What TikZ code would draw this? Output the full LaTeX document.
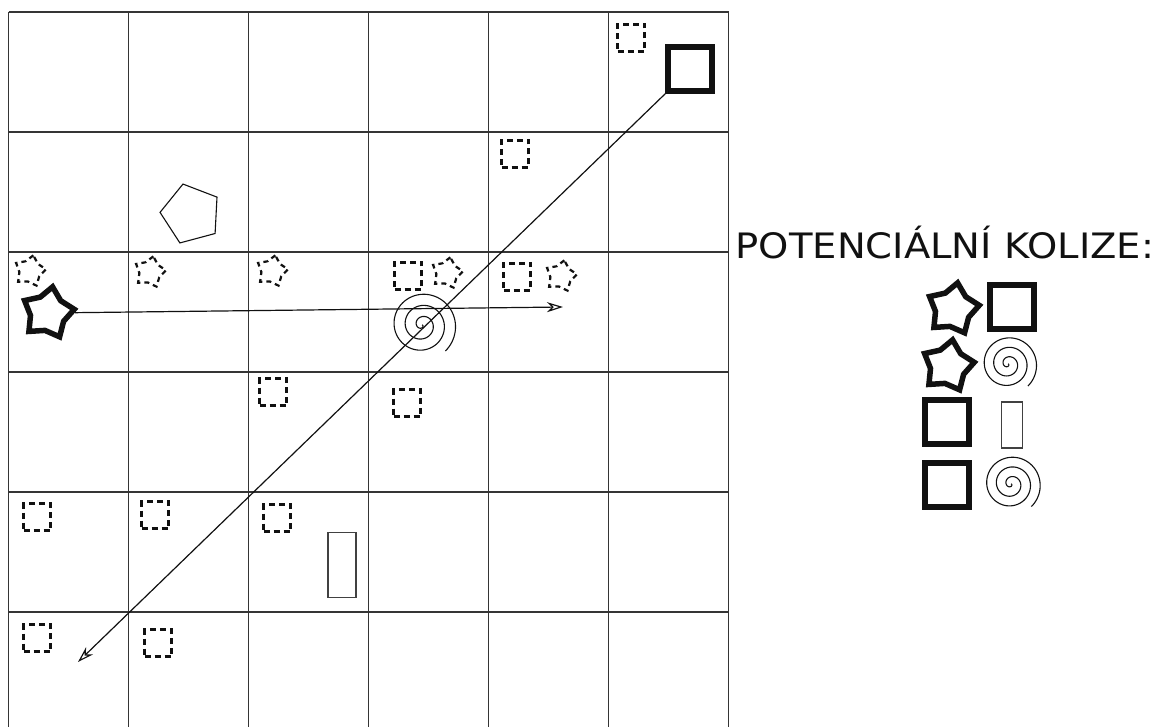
\documentclass[tikz,border=0pt]{standalone}
\usepackage{fontspec}
\setmainfont{DejaVu Sans}
\usetikzlibrary{positioning,shapes.geometric,arrows.meta}
\definecolor{ink}{HTML}{111111}
\tikzset{
  >=stealth,
  % --- grid
  cell/.style      = {line width=1.3pt, draw=ink!85},
  % --- shapes
  bigsq/.style     = {rectangle, draw=ink, line width=5.5pt, minimum size=44pt, inner sep=0pt},
  ghostsq/.style   = {rectangle, draw=ink, line width=2.2pt, minimum size=27pt, inner sep=0pt,
                      dash pattern=on 6pt off 4pt},
  bigstar/.style   = {star, star points=5, star point ratio=1.5, draw=ink, line width=5.5pt,
                      minimum size=53pt, inner sep=0pt, rotate=-10},
  ghoststar/.style = {star, star points=5, star point ratio=1.5, draw=ink, line width=2.2pt,
                      minimum size=32pt, inner sep=0pt, rotate=-12, dash pattern=on 5pt off 4pt},
  penta/.style     = {regular polygon, regular polygon sides=5, draw=ink, line width=1.1pt,
                      minimum size=62pt, inner sep=0pt, rotate=15},
  slab/.style      = {rectangle, draw=ink!80, line width=1.1pt, inner sep=0pt},
  spiralline/.style= {draw=ink, line width=1.1pt},
  title/.style     = {font=\fontsize{35}{42}\selectfont\addfontfeature{FakeStretch=1.1},
                      text=ink, inner sep=0pt},
  % --- edges
  e/.style         = {-{Stealth[open,length=16pt,width=10pt,inset=5pt]}, line width=1.2pt, draw=ink},
  % --- spiral
  spiral/.pic      = {\draw[spiralline] plot[domain=0:1128, samples=240, smooth] (\x:{0.031*\x});},
}

\begin{document}
\begin{tikzpicture}[x=1pt, y=-1pt]
  \useasboundingbox (0,0) rectangle (1162,727);
  % grid
  \foreach \k in {0,...,6} {
    \draw[cell] ({8.5+120*\k},12) -- ({8.5+120*\k},732);
    \draw[cell] (8.5,{12+120*\k}) -- (728.5,{12+120*\k});
  }
  % past positions
  \foreach \x/\y [count=\i] in {631/38, 515/154, 408/276, 517/277, 273/392, 407/403,
                                37/517, 155/515, 277/518, 37/638, 158/643}
    \node[ghostsq] (gsq\i) at (\x,\y) {};
  \foreach \x/\y [count=\i] in {30/271, 150/272, 272/271, 447/273, 561/276}
    \node[ghoststar] (gstar\i) at (\x,\y) {};
  % objects
  \node[bigstar] (star) at (48,313) {};
  \node[bigsq] (box) at (690,69) {};
  \node[penta] (penta) at (191,214) {};
  \node[slab, minimum width=28pt, minimum height=65pt] (slab) at (342,565) {};
  \pic at (422,325) {spiral};
  \coordinate (hend) at (563,307);
  \coordinate (dend) at (78,662);
  \draw[e] (star) -- (hend);
  \draw[e] (box.south west) -- (dend);
  % legend
  \node[title] (head) at (945,243) {POTENCIÁLNÍ KOLIZE:};
  \node[bigstar] (l1a) at (953,309) {};
  \node[bigsq] (l1b) at (1012,307) {};
  \node[bigstar] (l2a) at (948,366) {};
  \pic[scale=0.85] at (1008,364) {spiral};
  \node[bigsq] (l3a) at (947,422) {};
  \node[slab, minimum width=21pt, minimum height=46pt] (l3b) at (1012,425) {};
  \node[bigsq] (l4a) at (947,485) {};
  \pic[scale=0.87] at (1011,484) {spiral};
\end{tikzpicture}
\end{document}
